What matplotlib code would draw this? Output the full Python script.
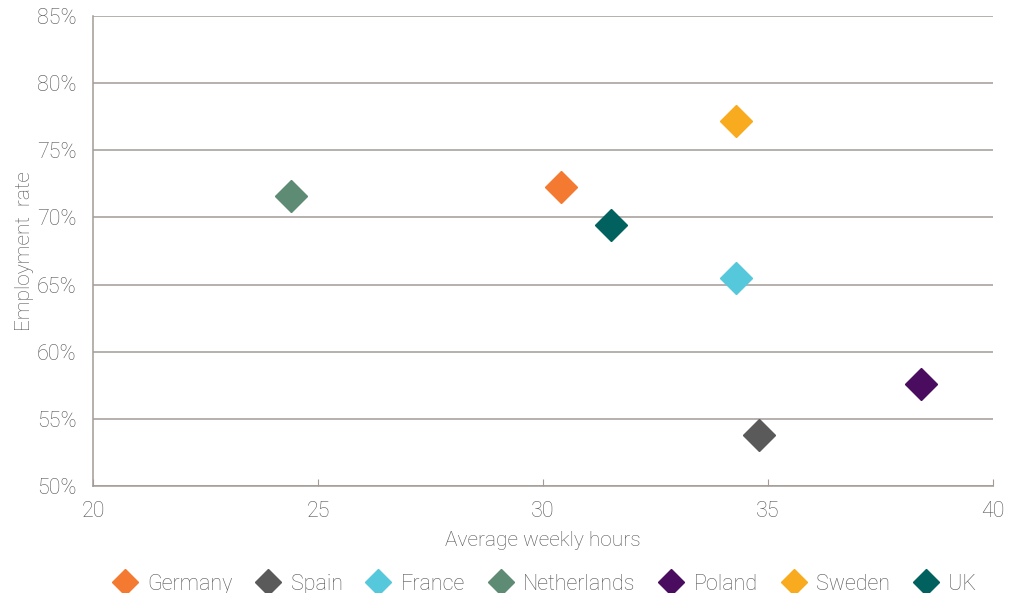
import matplotlib
matplotlib.use("Agg")
import matplotlib.pyplot as plt
from matplotlib.ticker import FuncFormatter

countries = ["Germany", "Spain", "France", "Netherlands", "Poland", "Sweden", "UK"]
hours = [30.4, 34.8, 34.3, 24.4, 38.4, 34.3, 31.5]
employment = [72.3, 53.8, 65.5, 71.6, 57.6, 77.2, 69.4]
colors = ["#F47A32", "#5A5A5A", "#55C8DB", "#5E8B74", "#4A0C5E", "#F9AB1F", "#00615F"]

text_color = "#555555"
line_color = "#A39B96"

plt.rcParams['font.family'] = ['Roboto', 'DejaVu Sans']
plt.rcParams['font.weight'] = 'light'
plt.rcParams['axes.labelweight'] = 'light'

fig = plt.figure(figsize=(10.09, 5.93), dpi=100)
ax = fig.add_axes([93 / 1009, 1 - 486 / 593, 900 / 1009, 470 / 593])

for name, x, y, c in zip(countries, hours, employment, colors):
    ax.plot(x, y, marker="D", markersize=16, color=c, linestyle="none", label=name, zorder=3)

ax.set_xlim(20, 40)
ax.set_ylim(50, 85)
ax.set_xticks([20, 25, 30, 35, 40])
ax.set_yticks(range(50, 90, 5))
ax.yaxis.set_major_formatter(FuncFormatter(lambda v, p: "%d%%" % v))

ax.grid(axis="y", color=line_color, linewidth=1.1)
ax.set_axisbelow(True)
for s in ["top", "right"]:
    ax.spines[s].set_visible(False)
for s in ["left", "bottom"]:
    ax.spines[s].set_color(line_color)
    ax.spines[s].set_linewidth(1.1)

ax.tick_params(axis="x", direction="in", length=5, color=line_color, labelcolor=text_color,
               labelsize=15.5, pad=11)
ax.tick_params(axis="y", length=0, labelcolor=text_color, labelsize=15.5, pad=12)

ax.set_xlabel("Average weekly hours", color=text_color, fontsize=15, labelpad=6)
ax.set_ylabel("Employment  rate", color=text_color, fontsize=15, labelpad=2)

leg = ax.legend(loc="upper center", bbox_to_anchor=(0.5, -0.168), ncol=7, frameon=False,
                fontsize=15.5, handletextpad=0.35, columnspacing=0.95, markerscale=0.85,
                handlelength=1.4, borderaxespad=0)
for t in leg.get_texts():
    t.set_color(text_color)

fig.savefig("out.png", dpi=100)
